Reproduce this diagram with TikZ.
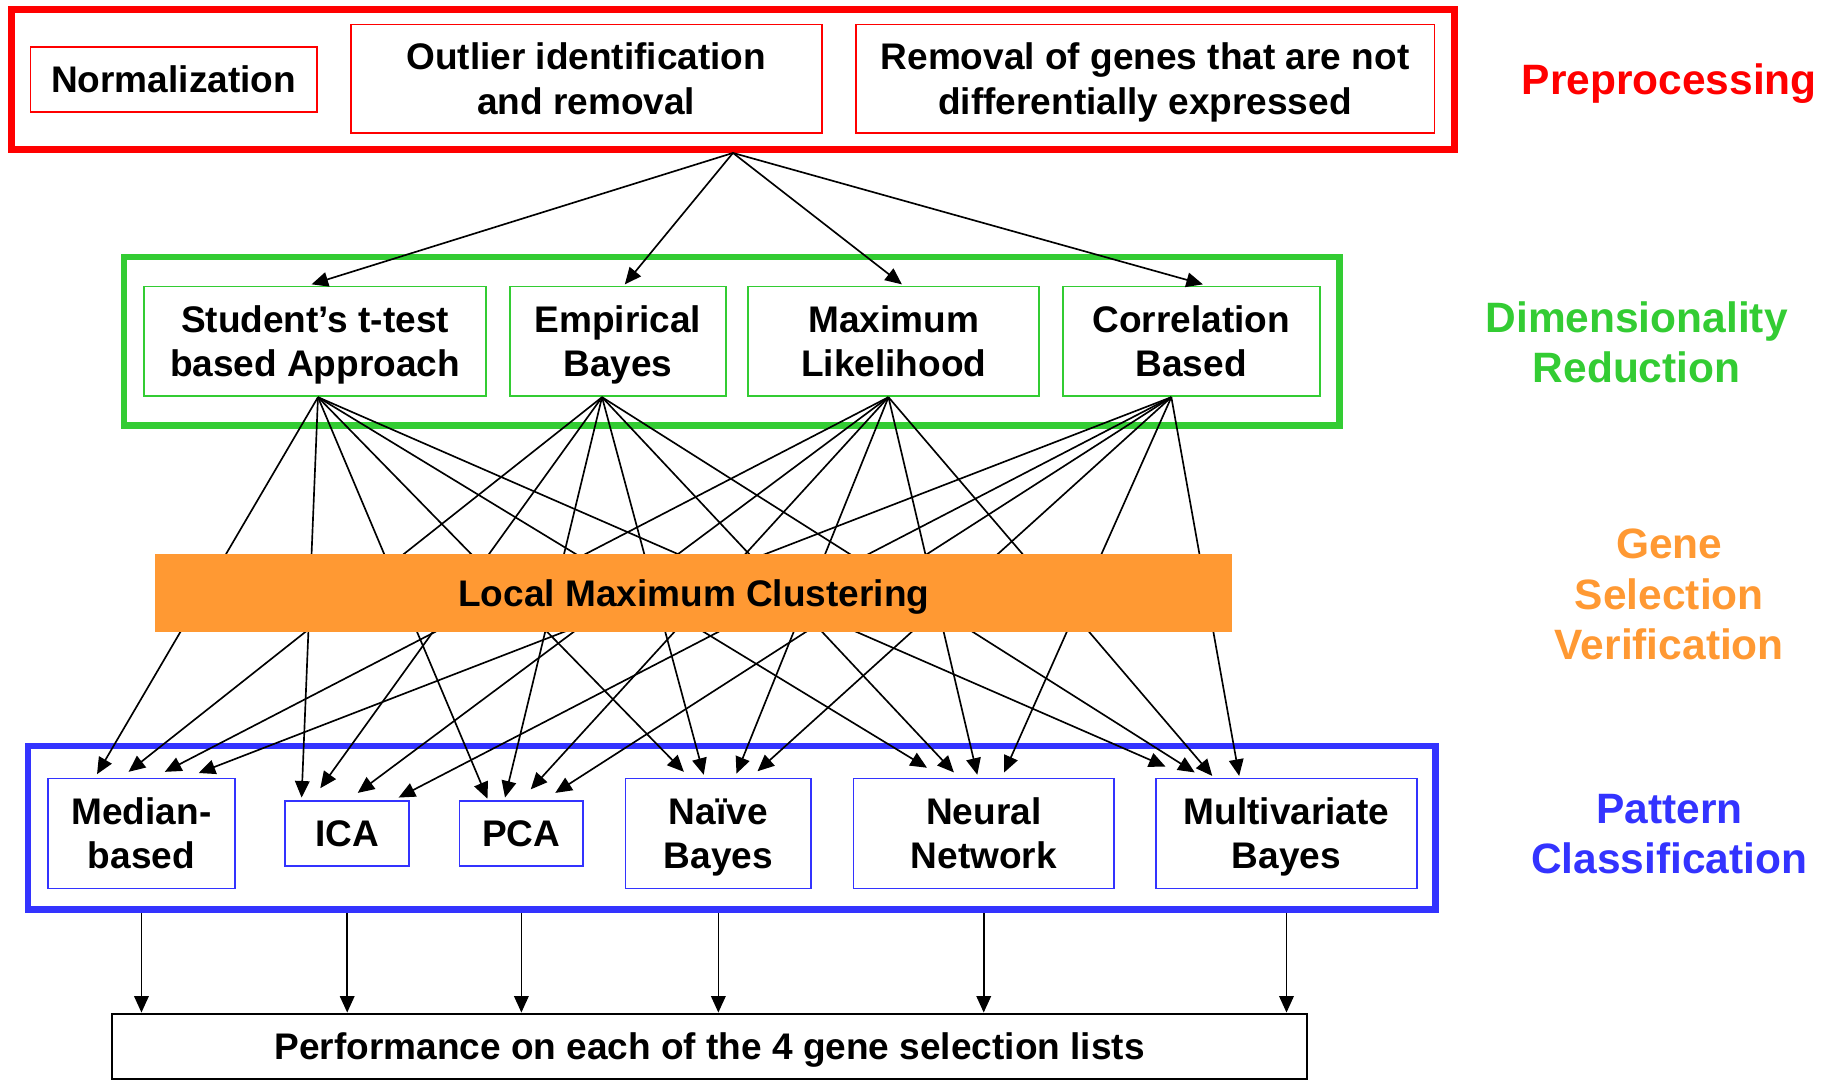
\documentclass[tikz,border=0pt]{standalone}
\usepackage{fontspec}
\setmainfont{Liberation Sans}
\usetikzlibrary{arrows.meta,calc}
\definecolor{pred}{HTML}{FF0000}
\definecolor{pgreen}{HTML}{33CC33}
\definecolor{porange}{HTML}{FF9933}
\definecolor{pblue}{HTML}{3333FF}
\newcommand\boxfont{\fontsize{19}{22.8}\selectfont\bfseries}
\newcommand\labfont{\fontsize{21.8}{25.8}\selectfont\bfseries}
\newcommand\bstrut{\rule[-4pt]{0pt}{21.6pt}}
\newcommand\lstrut{\rule[-5pt]{0pt}{25.6pt}}
\begin{document}
\begin{tikzpicture}[x=0.6pt,y=-0.6pt,
  outerbox/.style={draw, line width=3.4pt, inner sep=0pt},
  thinbox/.style={draw, line width=0.9pt, inner sep=0pt, align=center, font=\boxfont},
  redbox/.style={thinbox, draw=pred},
  greenbox/.style={thinbox, draw=pgreen, minimum height=56.4pt},
  bluebox/.style={thinbox, draw=pblue},
  conn/.style={line width=0.85pt, -{Triangle[length=8.5pt,width=7.5pt]}},
  lab/.style={align=center, font=\labfont, inner sep=0pt}]
\fill[white] (0,0) rectangle (1568,925);
\useasboundingbox (0,0) rectangle (1568,925);

% Preprocessing
\node[outerbox, draw=pred, minimum width=740.4pt, minimum height=72pt] (pre) at (627,68) {};
\node[redbox, minimum width=147pt, minimum height=33.6pt] (norm) at (148.5,68) {\bstrut Normalization};
\node[redbox, minimum width=241.8pt, minimum height=55.8pt] (outl) at (501.5,67.5) {\bstrut Outlier identification\\and removal\bstrut};
\node[redbox, minimum width=297pt, minimum height=55.8pt] (remo) at (979.5,67.5) {\bstrut Removal of genes that are not\\differentially expressed\bstrut};

% Dimensionality reduction
\node[outerbox, draw=pgreen, minimum width=624pt, minimum height=86.4pt] (dimr) at (626,292) {};
\node[greenbox, minimum width=175.8pt] (stud) at (269.5,292) {\bstrut Student’s t-test\\based Approach\bstrut};
\node[greenbox, minimum width=111pt] (emp) at (528.5,292) {\bstrut Empirical\\Bayes\bstrut};
\node[greenbox, minimum width=149.4pt] (maxl) at (764.5,292) {\bstrut Maximum\\Likelihood\bstrut};
\node[greenbox, minimum width=132pt] (corr) at (1019,292) {\bstrut Correlation\\Based\bstrut};

% Pattern classification
\node[outerbox, draw=pblue, minimum width=722.4pt, minimum height=84pt] (patc) at (626,708) {};
\node[bluebox, minimum width=96pt, minimum height=56.4pt] (med) at (121,713) {\bstrut Median-\\based\bstrut};
\node[bluebox, minimum width=63.6pt, minimum height=33.6pt] (ica) at (297,713) {\bstrut ICA};
\node[bluebox, minimum width=63.6pt, minimum height=33.6pt] (pca) at (446,713) {\bstrut PCA};
\node[bluebox, minimum width=95.4pt, minimum height=56.4pt] (nb) at (614.5,713) {\bstrut Naïve\\Bayes\bstrut};
\node[bluebox, minimum width=133.8pt, minimum height=56.4pt] (nn) at (841.5,713) {\bstrut Neural\\Network\bstrut};
\node[bluebox, minimum width=133.8pt, minimum height=56.4pt] (mb) at (1100.5,713) {\bstrut Multivariate\\Bayes\bstrut};

% Performance
\node[thinbox, draw=black, line width=1pt, minimum width=613.2pt, minimum height=33.6pt] (perf) at (607,895) {\bstrut Performance on each of the 4 gene selection lists};

% Preprocessing -> dimensionality reduction
\draw[conn] (pre.south) -- ($(stud.north)+(-3,-1)$);
\draw[conn] (pre.south) -- ($(emp.north)+(6,-1)$);
\draw[conn] (pre.south) -- ($(maxl.north)+(7,-1)$);
\draw[conn] (pre.south) -- ($(corr.north)+(10,-1)$);

% Dimensionality reduction -> pattern classification
\foreach \s/\sx/\t/\tx/\ty in {
  stud/2.5/med/-38/-3, emp/-13.5/med/-11/-5, maxl/-4.5/med/20/-5, corr/-17/med/49/-4,
  stud/2.5/ica/-39/-2, emp/-13.5/ica/-23/-10, maxl/-4.5/ica/9/-6, corr/-17/ica/44/-2,
  stud/2.5/pca/-29/-1, emp/-13.5/pca/-14/-2, maxl/-4.5/pca/8/-9, corr/-17/pca/29/-6,
  stud/2.5/nb/-29.5/-5, emp/-13.5/nb/-12.5/-2.5, maxl/-4.5/nb/15.5/-3.5, corr/-17/nb/33.5/-5.5,
  stud/2.5/nn/-48.5/-8.5, emp/-13.5/nn/-25.5/-4.5, maxl/-4.5/nn/-5.5/-2.5, corr/-17/nn/17.5/-4.5,
  stud/2.5/mb/-103.5/-9.5, emp/-13.5/mb/-78.5/-4.5, maxl/-4.5/mb/-63.5/-1.5, corr/-17/mb/-40.5/-1.5}
  {\draw[conn] ($(\s.south)+(\sx,0)$) -- ($(\t.north)+(\tx,\ty)$);}

% Local maximum clustering bar (over the connectors)
\node[fill=porange, inner sep=0pt, minimum width=552.6pt, minimum height=40.2pt, font=\boxfont] (lmc) at (593.5,507.5) {\bstrut Local Maximum Clustering};

% Pattern classification -> performance
\foreach \t in {med,ica,pca,nb,nn,mb}
  {\draw[conn] (\t.south |- patc.south) -- (\t.south |- perf.north);}

% Labels
\node[lab, text=pred] (lpre) at (1428,68) {\lstrut Preprocessing};
\node[lab, text=pgreen] (ldim) at (1400,293) {\lstrut Dimensionality\\Reduction\lstrut};
\node[lab, text=porange] (lgsv) at (1428,508) {\lstrut Gene\\Selection\\Verification\lstrut};
\node[lab, text=pblue] (lpat) at (1428,713) {\lstrut Pattern\\Classification\lstrut};
\end{tikzpicture}
\end{document}
